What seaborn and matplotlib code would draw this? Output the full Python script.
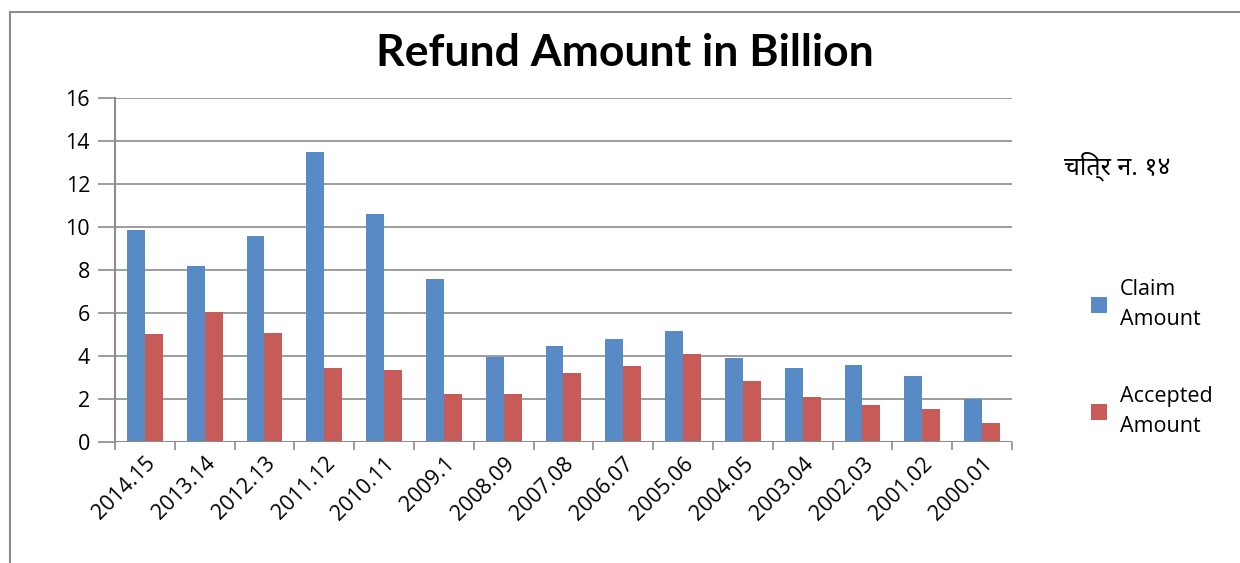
import matplotlib
matplotlib.use("Agg")
import matplotlib.pyplot as plt
import seaborn as sns
import pandas as pd
from matplotlib.patches import Rectangle

# Data (billion)
years = ["2014.15", "2013.14", "2012.13", "2011.12", "2010.11", "2009.1", "2008.09",
         "2007.08", "2006.07", "2005.06", "2004.05", "2003.04", "2002.03", "2001.02", "2000.01"]
claim_amount = [9.86, 8.19, 9.60, 13.48, 10.60, 7.60, 3.95, 4.47, 4.78, 5.15, 3.89, 3.42, 3.58, 3.05, 1.98]
accepted_amount = [5.03, 6.04, 5.08, 3.42, 3.36, 2.24, 2.24, 3.22, 3.53, 4.10, 2.85, 2.11, 1.70, 1.53, 0.90]
series_names = ["Claim\nAmount", "Accepted\nAmount"]
colors = ["#588BC6", "#C75B58"]

df = pd.DataFrame({
    "year": years * 2,
    "value": claim_amount + accepted_amount,
    "series": [series_names[0]] * len(years) + [series_names[1]] * len(years),
})

sns.set_style("white")
plt.rcParams["font.family"] = ["Open Sans", "DejaVu Sans"]
plt.rcParams["text.color"] = "black"
plt.rcParams["xtick.color"] = "black"
plt.rcParams["ytick.color"] = "black"

fig = plt.figure(figsize=(12.4, 5.63), dpi=100)
ax = fig.add_axes([0.0927, 0.2149, 0.7234, 0.611])

sns.barplot(data=df, x="year", y="value", hue="series", hue_order=series_names,
            palette=colors, width=0.6, gap=0, saturation=1, linewidth=0,
            ax=ax, zorder=3)

ax.set_ylim(0, 16)
ax.set_xlim(-0.5, len(years) - 0.5)
ax.set_yticks(range(0, 17, 2))
ax.yaxis.grid(True, color="#8c8c8c", linewidth=1.2, zorder=0)
ax.set_axisbelow(True)
ax.set_xlabel("")
ax.set_ylabel("")

for side in ["top", "right", "bottom"]:
    ax.spines[side].set_visible(False)
ax.spines["left"].set_color("#8c8c8c")
ax.spines["left"].set_linewidth(1.5)
ax.axhline(0, color="#8c8c8c", linewidth=1.5, zorder=4)

ax.tick_params(axis="y", length=12, width=1.2, color="#8c8c8c", labelcolor="black",
               labelsize=15.5, pad=6, left=True)
ax.set_xticks([i + 0.5 for i in range(-1, len(years))], minor=True)
ax.tick_params(axis="x", which="minor", length=6, width=1.2, color="#8c8c8c", bottom=True)
ax.tick_params(axis="x", which="major", length=0, labelsize=15.5, pad=8, labelcolor="black")
plt.setp(ax.get_xticklabels(), rotation=45, ha="right", rotation_mode="anchor")

leg = ax.legend(loc="upper left", bbox_to_anchor=(1.066, 0.53), frameon=False,
                fontsize=15.5, handlelength=0.75, handleheight=0.75, labelspacing=2.6,
                handletextpad=0.6)
for t in leg.get_texts():
    t.set_linespacing(1.55)

fig.text(0.504, 0.905, "Refund Amount in Billion", ha="center", va="center",
         fontsize=32, fontweight="bold", color="black", family=["Lato", "DejaVu Sans"])
fig.text(0.858, 0.705, "चित्र न. १४", ha="left", va="center", fontsize=18,
         fontweight="bold", color="black", family=["Noto Sans", "DejaVu Sans"])

fig.patches.append(Rectangle((10 / 1240, -0.1), 1.1, 1.1 - 12 / 563, transform=fig.transFigure,
                             fill=False, edgecolor="#8c8c8c", linewidth=1.5))

fig.savefig("out.png", dpi=100)
